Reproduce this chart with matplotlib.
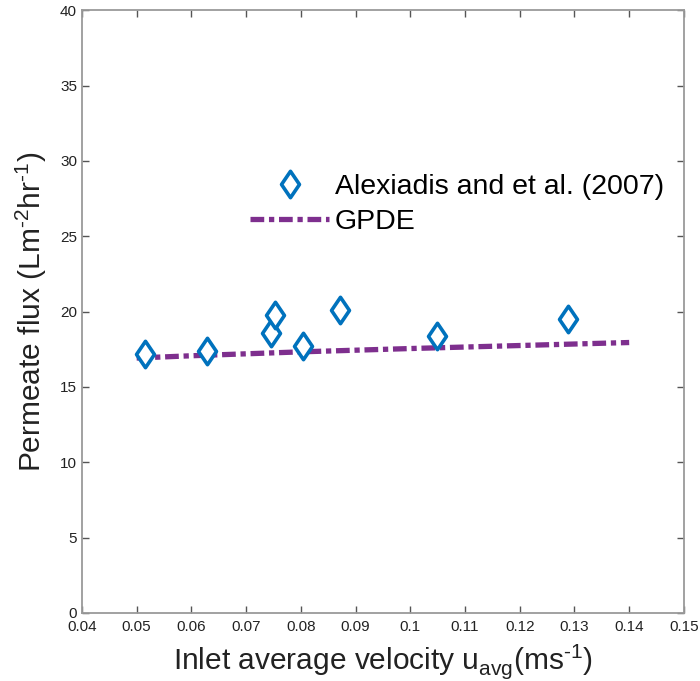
import numpy as np
import matplotlib
matplotlib.use('Agg')
import matplotlib.pyplot as plt
from matplotlib.path import Path

plt.rcParams['font.family'] = ['Liberation Sans', 'DejaVu Sans']
plt.rcParams['mathtext.fontset'] = 'custom'
plt.rcParams['mathtext.rm'] = 'Liberation Sans'

# --- Data ---
exp_velocity = [0.0515, 0.0629, 0.0746, 0.0753, 0.0804, 0.0872, 0.1049, 0.1289]
exp_flux = [17.2, 17.4, 18.6, 19.8, 17.7, 20.1, 18.4, 19.5]

gpde_velocity = [0.05, 0.06, 0.07, 0.08, 0.09, 0.10, 0.11, 0.12, 0.13, 0.14]
gpde_flux = [16.92, 17.07, 17.2, 17.33, 17.44, 17.55, 17.65, 17.75, 17.85, 17.95]

x_ticks = [0.04, 0.05, 0.06, 0.07, 0.08, 0.09, 0.10, 0.11, 0.12, 0.13, 0.14, 0.15]
x_tick_labels = ['0.04', '0.05', '0.06', '0.07', '0.08', '0.09', '0.1',
                 '0.11', '0.12', '0.13', '0.14', '0.15']
y_ticks = [0, 5, 10, 15, 20, 25, 30, 35, 40]

blue = '#0072BD'
purple = '#7E2F8E'
spine_grey = '#9a9a9a'

# tall, narrow diamond like the MATLAB one
diamond = Path([(0, 1), (0.68, 0), (0, -1), (-0.68, 0), (0, 1)],
               [Path.MOVETO, Path.LINETO, Path.LINETO, Path.LINETO, Path.CLOSEPOLY])

fig = plt.figure(figsize=(7.0, 6.81), dpi=100)
ax = fig.add_axes([0.117, 0.0999, 0.86, 0.885])

ax.plot(exp_velocity, exp_flux, linestyle='none', marker=diamond, markersize=19,
        markerfacecolor='white', markeredgecolor=blue, markeredgewidth=2.6,
        label='Alexiadis and et al. (2007)', zorder=3)
ax.plot(gpde_velocity, gpde_flux, color=purple, linewidth=3.8,
        dashes=(2.6, 0.9, 1.0, 0.9), label='GPDE', zorder=2)

ax.set_xlim(0.04, 0.15)
ax.set_ylim(0, 40)
ax.set_xticks(x_ticks)
ax.set_xticklabels(x_tick_labels)
ax.set_yticks(y_ticks)
ax.tick_params(direction='in', length=5, width=1, color='#555555',
               labelsize=11, top=True, right=True, labelcolor='#222222')
ax.tick_params(axis='x', pad=5)
for s in ax.spines.values():
    s.set_color(spine_grey)
    s.set_linewidth(1.3)

ax.set_xlabel('Inlet average velocity u$_{\\mathregular{avg}}$(ms$^{\\mathregular{\\text{-}1}}$)',
              fontsize=21.5, color='#222222', labelpad=6)
ax.set_ylabel('Permeate flux (Lm$^{\\mathregular{\\text{-}2}}$hr$^{\\mathregular{\\text{-}1}}$)',
              fontsize=21.5, color='#222222', labelpad=8)

leg = ax.legend(loc='upper left', bbox_to_anchor=(0.255, 0.752), frameon=False,
                fontsize=20.5, handlelength=2.8, handletextpad=0.2,
                labelspacing=0.3, borderpad=0)

fig.savefig('out.png', dpi=100)
